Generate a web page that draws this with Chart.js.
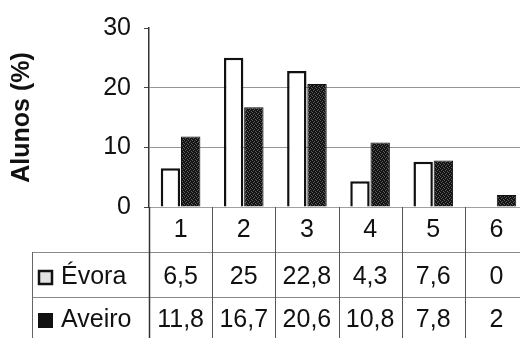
<!DOCTYPE html>
<html>
<head>
<meta charset="utf-8">
<script src="https://cdn.jsdelivr.net/npm/chart.js@4.4.1/dist/chart.umd.min.js"></script>
<style>
  html, body { margin: 0; padding: 0; background: #fff; }
  #wrap { width: 520px; height: 338px; overflow: hidden; position: relative; }
  canvas { display: block; }
</style>
</head>
<body>
<div id="wrap"><canvas id="c" width="528" height="338"></canvas></div>
<script>
// Percentage of students per category, two schools
const categories = ['1', '2', '3', '4', '5', '6'];
const evora = [6.5, 25, 22.8, 4.3, 7.6, 0];
const aveiro = [11.8, 16.7, 20.6, 10.8, 7.8, 2];
const seriesNames = ['Évora', 'Aveiro'];
const yTicks = [0, 10, 20, 30];

const FONT = '"Liberation Sans", Arial, sans-serif';
const INK = '#111';

// stippled dark fill for the second series
function stipple() {
  const p = document.createElement('canvas');
  p.width = 4; p.height = 4;
  const g = p.getContext('2d');
  g.fillStyle = '#141414';
  g.fillRect(0, 0, 4, 4);
  g.fillStyle = '#5c5c5c';
  [[0, 0], [2, 1], [1, 2], [3, 3]].forEach(([x, y]) => g.fillRect(x, y, 1, 1));
  return g.createPattern(p, 'repeat');
}

const fmt = v => String(v).replace('.', ',');

// data table under the plot: category row, one row per series
const tablePlugin = {
  id: 'dataTable',
  afterDraw(chart) {
    const ctx = chart.ctx;
    const xs = chart.scales.x;
    const area = chart.chartArea;
    const n = categories.length;
    const w = (area.right - area.left) / n;
    const yBase = area.bottom;
    const H = chart.height;
    const rowTop1 = 252, rowTop2 = 297, tableLeft = 32;
    ctx.save();

    // baseline of the plot
    ctx.strokeStyle = '#a0a0a0';
    ctx.lineWidth = 1;
    ctx.beginPath();
    ctx.moveTo(area.left, yBase + 0.5);
    ctx.lineTo(area.right, yBase + 0.5);
    ctx.stroke();

    // horizontal table rules
    ctx.strokeStyle = '#8a8a8a';
    [rowTop1, rowTop2].forEach(y => {
      ctx.beginPath();
      ctx.moveTo(tableLeft, y + 0.5);
      ctx.lineTo(chart.width, y + 0.5);
      ctx.stroke();
    });
    // left border of the row-label column
    ctx.strokeStyle = '#666';
    ctx.beginPath();
    ctx.moveTo(tableLeft + 0.5, rowTop1);
    ctx.lineTo(tableLeft + 0.5, H);
    ctx.stroke();

    // vertical rules at category boundaries
    for (let b = 0; b <= n; b++) {
      const x = Math.round(area.left + b * w) + 0.5;
      ctx.strokeStyle = b === 0 ? '#333' : '#555';
      ctx.lineWidth = b === 0 ? 1.5 : 1;
      ctx.beginPath();
      ctx.moveTo(x, yBase);
      ctx.lineTo(x, H);
      ctx.stroke();
    }

    ctx.fillStyle = INK;
    ctx.font = '25px ' + FONT;
    ctx.textAlign = 'center';
    ctx.textBaseline = 'middle';
    categories.forEach((c, i) => {
      const x = xs.getPixelForValue(i);
      ctx.fillText(c, x, 230);
      ctx.fillText(fmt(evora[i]), x, 277);
      ctx.fillText(fmt(aveiro[i]), x, 320);
    });

    // row labels with series keys
    ctx.textAlign = 'left';
    ctx.fillText(seriesNames[0], 61, 277);
    ctx.fillText(seriesNames[1], 61, 320);
    ctx.fillStyle = '#e2e2e2';
    ctx.fillRect(39, 271, 13, 13);
    ctx.strokeStyle = INK;
    ctx.lineWidth = 2.5;
    ctx.strokeRect(39, 271, 13, 13);
    ctx.fillStyle = INK;
    ctx.fillRect(38, 313, 15, 15);
    ctx.restore();
  }
};

const ctx = document.getElementById('c').getContext('2d');
new Chart(ctx, {
  type: 'bar',
  data: {
    labels: categories,
    datasets: [
      {
        label: seriesNames[0],
        data: evora,
        backgroundColor: '#ffffff',
        borderColor: INK,
        borderWidth: 2.5,
        borderSkipped: 'bottom',
        categoryPercentage: 0.64,
        barPercentage: 0.96
      },
      {
        label: seriesNames[1],
        data: aveiro,
        backgroundColor: stipple(),
        borderColor: '#101010',
        borderWidth: 1,
        borderSkipped: 'bottom',
        categoryPercentage: 0.64,
        barPercentage: 0.96
      }
    ]
  },
  options: {
    responsive: false,
    animation: false,
    devicePixelRatio: 1,
    layout: { padding: { top: 27, left: 0, right: 0, bottom: 0 } },
    plugins: { legend: { display: false }, tooltip: { enabled: false } },
    scales: {
      x: {
        ticks: { display: false },
        grid: { display: false },
        border: { display: false },
        afterFit: s => { s.height = 131; }
      },
      y: {
        min: 0,
        max: 30,
        afterBuildTicks: s => { s.ticks = yTicks.map(v => ({ value: v })); },
        afterFit: s => { s.width = 149; },
        ticks: {
          font: { family: FONT, size: 25 },
          color: INK,
          padding: 13
        },
        grid: {
          color: c => (c.tick && c.tick.value === 30) ? 'rgba(0,0,0,0)' : (c.tick && c.tick.value === 0 ? '#b0b0b0' : '#969696'),
          tickColor: '#444',
          tickLength: 5,
          lineWidth: 1
        },
        border: { color: '#333', width: 1.5 },
        title: {
          display: true,
          text: 'Alunos (%)',
          font: { family: FONT, size: 25, weight: 'bold' },
          color: INK,
          padding: { top: 7, bottom: 0 }
        }
      }
    }
  },
  plugins: [tablePlugin]
});
</script>
</body>
</html>
